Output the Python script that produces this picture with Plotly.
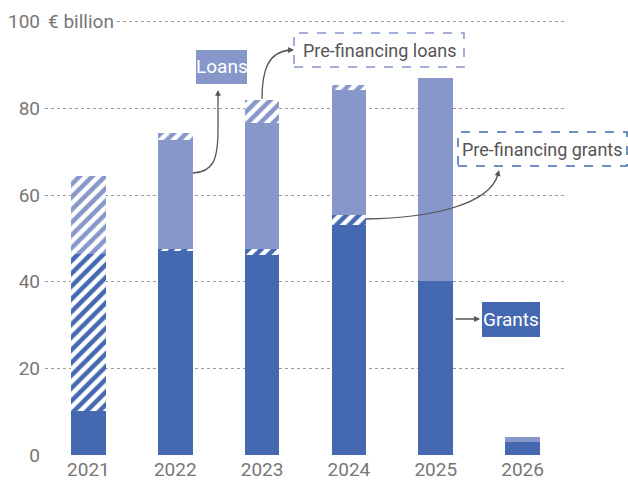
import plotly.graph_objects as go

years = ["2021", "2022", "2023", "2024", "2025", "2026"]
grants = [10.2, 47.2, 46.1, 53.0, 40.1, 3.1]
prefin_grants = [36.3, 0.4, 1.5, 2.4, 0.0, 0.0]
loans = [0.0, 25.2, 29.0, 28.9, 46.8, 1.0]
prefin_loans = [17.8, 1.5, 5.4, 1.0, 0.0, 0.0]

DARK = "#4469B0"
LIGHT = "#8797CA"
FONT = "Roboto, Liberation Sans, sans-serif"
TXT = "#555555"
TICK = "#777777"
FS = 18

W, H = 628, 482
L, R, T, B = 45, 62, 20, 27
PW, PH = W - L - R, H - T - B
YMAX = 100.4


def X(px):
    return (px - L) / PW


def Y(py):
    return (H - B - py) / PH


fig = go.Figure()
fig.add_bar(x=years, y=grants, name="Grants", marker=dict(color=DARK, line=dict(width=0)))
fig.add_bar(x=years, y=prefin_grants, name="Pre-financing grants",
            marker=dict(color=DARK, line=dict(width=0),
                        pattern=dict(shape="/", bgcolor="white", fgcolor=DARK,
                                     size=9, solidity=0.5, fillmode="replace")))
fig.add_bar(x=years, y=loans, name="Loans", marker=dict(color=LIGHT, line=dict(width=0)))
fig.add_bar(x=years, y=prefin_loans, name="Pre-financing loans",
            marker=dict(color=LIGHT, line=dict(width=0),
                        pattern=dict(shape="/", bgcolor="white", fgcolor=LIGHT,
                                     size=9, solidity=0.5, fillmode="replace")))

shapes = []
annotations = []

# curved leader lines
paths = [
    [(193, 173), (213, 172), (218, 160), (218, 130), (218, 95)],
    [(262, 99), (262, 70), (268, 52), (290, 50)],
    [(366, 219), (430, 218), (490, 205), (498, 174)],
]
for p in paths:
    d = "M %f,%f C %f,%f %f,%f %f,%f" % (X(p[0][0]), Y(p[0][1]), X(p[1][0]), Y(p[1][1]),
                                        X(p[2][0]), Y(p[2][1]), X(p[3][0]), Y(p[3][1]))
    if len(p) > 4:
        d += " L %f,%f" % (X(p[4][0]), Y(p[4][1]))
    shapes.append(dict(type="path", path=d, xref="paper", yref="paper",
                       line=dict(color=TXT, width=1.3)))

# arrowheads
heads = [((218, 90), 0, 8), ((294, 50), -8, 0), ((499, 170), -2, 8), ((480, 319), -26, 0)]
for (tx, ty), ax, ay in heads:
    annotations.append(dict(x=X(tx), y=Y(ty), xref="paper", yref="paper", text="",
                            showarrow=True, ax=ax, ay=ay, arrowhead=2, arrowsize=0.9,
                            arrowwidth=1.3, arrowcolor=TXT, standoff=0, startstandoff=0))

# boxes
shapes.append(dict(type="rect", xref="paper", yref="paper", x0=X(196), x1=X(247), y0=Y(84), y1=Y(50),
                   fillcolor=LIGHT, line=dict(width=0)))
shapes.append(dict(type="rect", xref="paper", yref="paper", x0=X(482), x1=X(540), y0=Y(337), y1=Y(302),
                   fillcolor=DARK, line=dict(width=0)))
shapes.append(dict(type="rect", xref="paper", yref="paper", x0=X(294), x1=X(464), y0=Y(67), y1=Y(33),
                   line=dict(color=LIGHT, width=1.5, dash="dash")))
shapes.append(dict(type="rect", xref="paper", yref="paper", x0=X(458), x1=X(627), y0=Y(166), y1=Y(132),
                   line=dict(color=DARK, width=1.5, dash="dash")))

labels = [("Loans", 221.5, 67, "white"), ("Grants", 511, 319.5, "white"),
          ("Pre-financing loans", 379, 50, TXT), ("Pre-financing grants", 542, 149, TXT)]
for txt, cx, cy, col in labels:
    annotations.append(dict(x=X(cx), y=Y(cy), xref="paper", yref="paper", text=txt,
                            showarrow=False, xanchor="center", yanchor="middle",
                            font=dict(family=FONT, size=FS + 1 if col == "white" else FS, color=col)))

annotations.append(dict(x=X(45), y=100, xref="paper", yref="y", text="€ billion",
                        showarrow=False, xanchor="left", yanchor="middle", bgcolor="white",
                        borderpad=2, font=dict(family=FONT, size=FS + 1, color=TICK)))

fig.update_layout(
    width=W, height=H,
    margin=dict(l=L, r=R, t=T, b=B, autoexpand=False),
    plot_bgcolor="white", paper_bgcolor="white",
    barmode="stack", bargap=0.6,
    showlegend=False,
    font=dict(family=FONT, size=FS, color=TICK),
    shapes=shapes, annotations=annotations,
)
fig.update_xaxes(type="category", range=[-0.5, 5.5], showgrid=False, showline=False,
                 ticks="", automargin=False, ticklabelstandoff=1,
                 tickfont=dict(family=FONT, size=FS + 1, color=TICK))
fig.update_yaxes(range=[0, YMAX], tickvals=[0, 20, 40, 60, 80, 100], showgrid=True,
                 gridcolor="#9a9a9a", griddash="dot", automargin=False,
                 gridwidth=1, zeroline=False, showline=False, ticks="", ticklabelstandoff=4,
                 tickfont=dict(family=FONT, size=FS + 1, color=TICK))

fig.write_html("out.html")
